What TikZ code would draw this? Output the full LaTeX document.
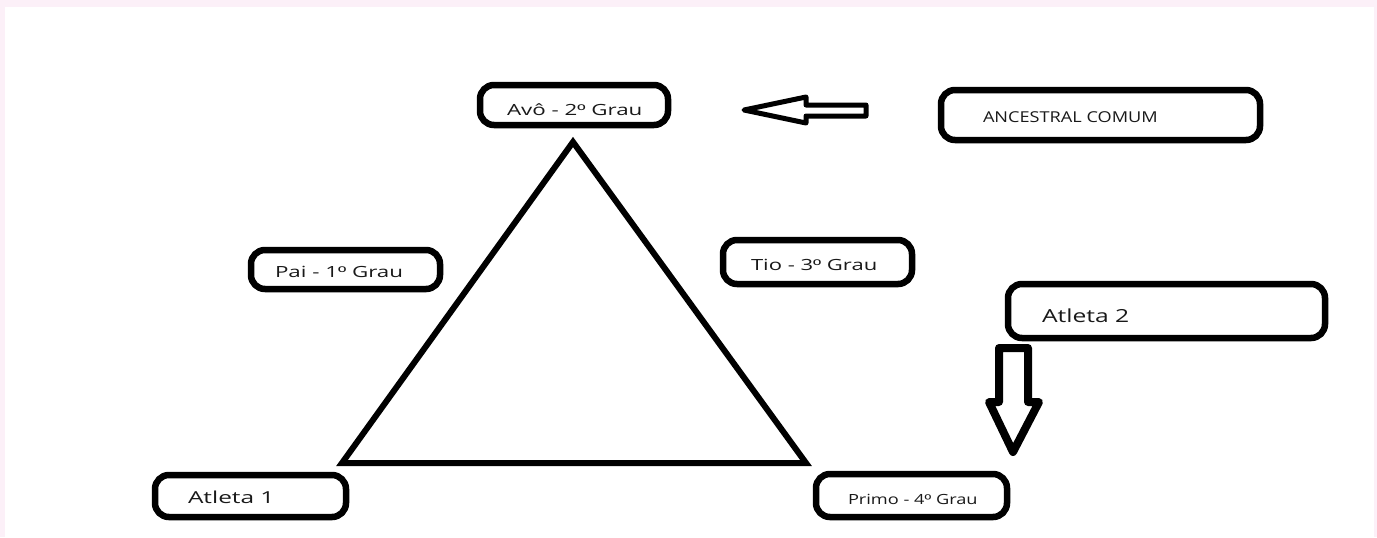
\documentclass[tikz,border=0pt]{standalone}
\usepackage{fontspec}
\setmainfont{Open Sans}
\newfontfamily\ordfont{Liberation Sans}
\usepackage{graphicx}
\newdimen\px \px=0.5pt
\newcommand\ordm{{\ordfont º}}
% #1 width, #2 left offset, #3 raise, #4 font size, #5 horizontal stretch, #6 text (all in px)
\newcommand\bt[6]{\makebox[#1\px][l]{\hspace*{#2\px}\raisebox{#3\px}[\height][\depth]{\fontsize{#4\px}{#4\px}\selectfont\scalebox{#5}[1]{#6}}}}
\definecolor{pinkbg}{RGB}{252,240,248}
\definecolor{txtc}{RGB}{25,25,25}
\tikzset{
  kinbox/.style={draw=black, line width=3.25pt, rounded corners=7pt, inner sep=0pt,
                 minimum height=#1\px, text=txtc},
  trianglestyle/.style={draw=black, line width=3pt, line join=miter},
  blockarrow/.style={draw=black, fill=white, line join=round},
}
\begin{document}
\begin{tikzpicture}[x=0.5pt, y=-0.5pt]
\useasboundingbox (0,0) rectangle (1377,537);
\fill[pinkbg] (0,0) rectangle (1377,537);
\fill[white] (5,7) rectangle (1374,537);

% triangle
\coordinate (apex) at (573,142);
\coordinate (bl) at (342,463);
\coordinate (br) at (806,463);
\draw[trianglestyle] (apex) -- (bl) -- (br) -- cycle;

% boxes
\node[kinbox=40] (avo) at (574,105) {\bt{188}{27}{-5}{15.4}{1.45}{Avô - 2\ordm{} Grau}};
\node[kinbox=50] (anc) at (1100.5,115) {\bt{319}{42}{-2}{15}{1.21}{ANCESTRAL COMUM}};
\node[kinbox=39] (pai) at (345.5,269.5) {\bt{189}{24}{-2.5}{15.4}{1.45}{Pai - 1\ordm{} Grau}};
\node[kinbox=44] (tio) at (817.5,262) {\bt{189}{28}{-3}{15.4}{1.43}{Tio - 3\ordm{} Grau}};
\node[kinbox=54] (at2) at (1166.5,311) {\bt{317}{34}{-5}{18}{1.37}{Atleta 2}};
\node[kinbox=42] (at1) at (250.5,496) {\bt{191}{33}{-1}{16.5}{1.48}{Atleta 1}};
\node[kinbox=43] (primo) at (911.5,495.5) {\bt{191}{32}{-3.5}{14}{1.30}{Primo - 4\ordm{} Grau}};

% left block arrow (towards Avô)
\draw[blockarrow, line width=2.5pt] (744,110) -- (806,97) -- (806,105) -- (866,105)
   -- (866,116) -- (806,116) -- (806,123) -- cycle;

% down block arrow (towards Primo)
\draw[blockarrow, line width=4pt] (999,348) -- (1028,348) -- (1028,402) -- (1039,402)
   -- (1013,452) -- (989,402) -- (999,402) -- cycle;
\end{tikzpicture}
\end{document}
